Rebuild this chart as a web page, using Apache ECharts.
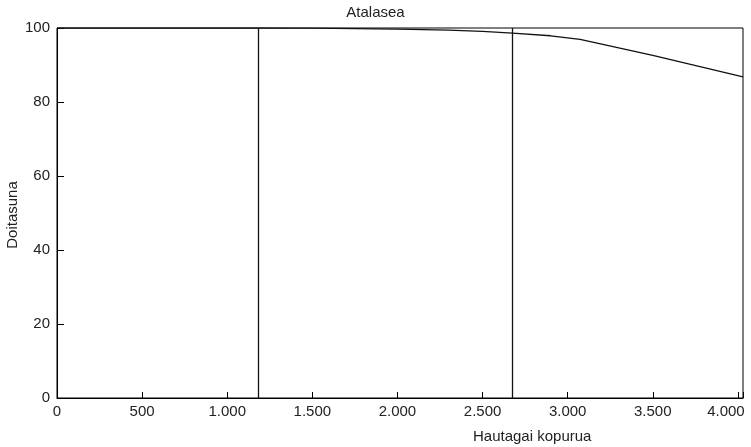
<!DOCTYPE html>
<html><head><meta charset="utf-8">
<script src="https://cdn.jsdelivr.net/npm/echarts@6/dist/echarts.min.js"></script>
<style>html,body{margin:0;padding:0;background:#fff}#c{width:751px;height:447px}</style>
</head><body><div id="c"></div>
<script>
const xValues = [0, 1180, 1500, 2000, 2300, 2500, 2675, 2900, 3073, 3500, 4030];
const yValues = [100, 100, 99.95, 99.7, 99.4, 99.1, 98.6, 97.9, 96.9, 92.6, 86.8];
const markX = [1180, 2675];
const xTickLabels = ['0', '500', '1.000', '1.500', '2.000', '2.500', '3.000', '3.500', '4.000'];
const yTickLabels = ['0', '20', '40', '60', '80', '100'];
const fmt = v => String(v).replace(/\B(?=(\d{3})+(?!\d))/g, '.');
const chart = echarts.init(document.getElementById('c'), null, {renderer: 'canvas'});
const font = 'Liberation Sans, Arial, sans-serif';
chart.setOption({
  animation: false,
  title: {text: 'Atalasea', left: 'center', top: 0, textStyle: {fontFamily: font, fontSize: 15, fontWeight: 'normal', color: '#222'}},
  grid: {left: 57, right: 8, top: 28, bottom: 49, show: true, borderColor: '#000', borderWidth: 1, containLabel: false, outerBoundsMode: 'none'},
  xAxis: {
    type: 'value', min: 0, max: 4030, interval: 500,
    axisLine: {lineStyle: {color: '#000', width: 1}},
    axisTick: {inside: true, length: 6, lineStyle: {color: '#000'}},
    axisLabel: {fontFamily: font, fontSize: 15, color: '#222', margin: 6,
      rich: {m: {fontFamily: font, fontSize: 15, color: '#222', padding: [0, 24, 0, 0]}},
      formatter: v => { const s = fmt(v); if (!xTickLabels.includes(s)) return ''; return s === xTickLabels[xTickLabels.length - 1] ? '{m|' + s + '}' : s; }},
    splitLine: {show: false}
  },
  yAxis: {
    type: 'value', min: 0, max: 100, interval: 20,
    axisLine: {show: true, lineStyle: {color: '#000', width: 1}},
    axisTick: {show: true, inside: true, length: 7, lineStyle: {color: '#000'}},
    axisLabel: {fontFamily: font, fontSize: 15, color: '#222', margin: 7,
      formatter: v => yTickLabels.includes(String(v)) ? String(v) : ''},
    splitLine: {show: false}
  },
  graphic: [
    {type: 'text', left: 473, top: 429, style: {text: 'Hautagai kopurua', font: '15px ' + font, fill: '#222'}},
    {type: 'text', x: 13, y: 215, rotation: Math.PI / 2, style: {text: 'Doitasuna', font: '15px ' + font, fill: '#222', align: 'center', verticalAlign: 'middle'}}
  ],
  series: [{
    type: 'line', data: xValues.map((x, i) => [x, yValues[i]]),
    showSymbol: false, lineStyle: {color: '#111', width: 1.3},
    markLine: {silent: true, symbol: 'none', label: {show: false},
      lineStyle: {color: '#111', width: 1.3, type: 'solid'},
      data: markX.map(v => ({xAxis: v}))}
  }]
});
</script></body></html>
